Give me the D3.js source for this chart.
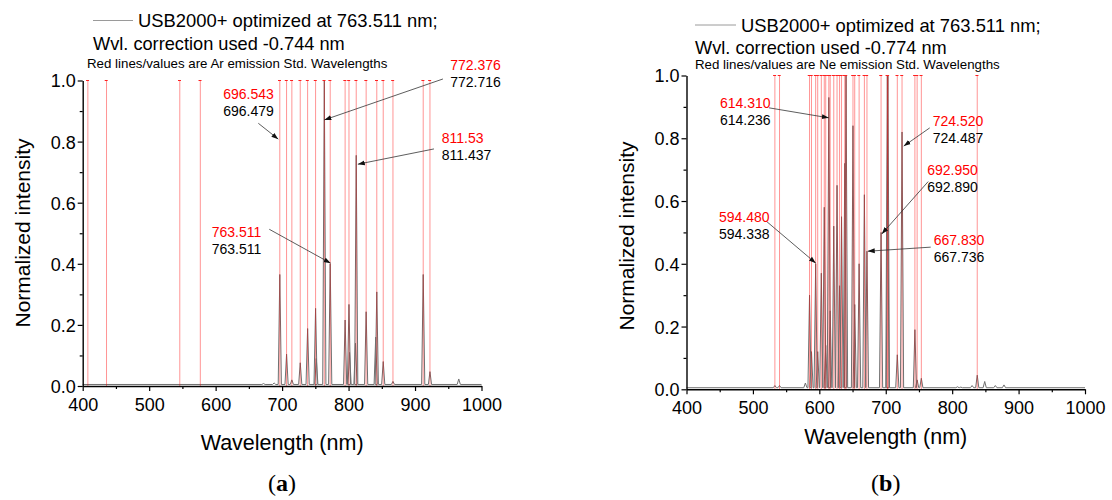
<!DOCTYPE html>
<html>
<head>
<meta charset="utf-8">
<script src="https://cdn.jsdelivr.net/npm/d3@7"></script>
<style>
  body { margin: 0; background: #fff; }
  svg { display: block; }
  text { font-family: "Liberation Sans", Arial, sans-serif; fill: #000; }
</style>
</head>
<body>
<svg id="chart" width="1112" height="500"></svg>
<script>
// ---------- shared axis ticks ----------
const xTickValues = [400, 500, 600, 700, 800, 900, 1000];
const xMinorValues = [450, 550, 650, 750, 850, 950];
const yTickValues = [0, 0.2, 0.4, 0.6, 0.8, 1.0];
const yMinorValues = [0.1, 0.3, 0.5, 0.7, 0.9];

// ---------- (a) argon lamp ----------
const arStdLines = [407.783, 435.833, 546.074, 576.960,
  696.543, 706.722, 714.704, 727.294, 738.398, 750.387, 763.511, 772.376,
  794.818, 800.616, 811.531, 826.452, 842.465, 852.144, 866.794, 912.297, 922.450];
const arPeakWl  = [672, 688, 696.543, 706.722, 714.704, 727.294, 738.398, 750.387, 751.465,
  763.511, 772.376, 794.818, 800.616, 801.479, 810.369, 811.531, 826.452, 840.821,
  842.465, 852.144, 866.794, 912.297, 922.450, 965.8];
const arPeakInt = [0.008, 0.010, 0.365, 0.104, 0.020, 0.076, 0.188, 0.254, 0.090,
  1.000, 0.400, 0.216, 0.267, 0.110, 0.140, 0.755, 0.243, 0.160,
  0.308, 0.080, 0.015, 0.365, 0.047, 0.023];
const arBaseline = 0.005;
const arLegendText = ["USB2000+ optimized at 763.511 nm;", "Wvl. correction used -0.744 nm",
  "Red lines/values are Ar emission Std. Wavelengths"];
const arStdLabels  = ["772.376", "811.53", "696.543", "763.511"];
const arMeasLabels = ["772.716", "811.437", "696.479", "763.511"];

// ---------- (b) neon lamp ----------
const neStdLines = [533.078, 540.056, 585.249, 588.190, 594.483, 597.553, 603.000, 607.434,
  609.616, 614.306, 616.359, 621.728, 626.650, 630.479, 633.443, 638.299, 640.225,
  650.653, 653.288, 659.895, 667.828, 671.704, 692.947, 702.405, 703.241, 717.394,
  724.517, 743.890, 747.244, 753.577, 837.761];
const nePeakWl  = [533.078, 540.056, 579, 585.249, 588.190, 594.483, 597.553, 603.000,
  607.434, 609.616, 614.306, 616.359, 621.728, 626.650, 630.479, 633.443, 638.299,
  640.225, 650.653, 653.288, 659.895, 667.828, 671.704, 692.947, 702.405, 703.241,
  717.394, 724.517, 743.890, 747.244, 753.577, 808, 813, 830, 837.761, 849, 865, 878];
const nePeakInt = [0.012, 0.012, 0.020, 0.300, 0.120, 0.400, 0.120, 0.370,
  0.580, 0.140, 0.930, 0.250, 0.520, 0.650, 0.330, 0.550, 0.720,
  1.000, 0.840, 0.270, 0.400, 0.620, 0.440, 0.500, 1.000, 1.000,
  0.110, 0.820, 0.190, 0.030, 0.035, 0.008, 0.007, 0.012, 0.045, 0.025, 0.012, 0.014];
const neBaseline = 0.005;
const neLegendText = ["USB2000+ optimized at 763.511 nm;", "Wvl. correction used -0.774 nm",
  "Red lines/values are Ne emission Std. Wavelengths"];
const neStdLabels  = ["614.310", "594.480", "724.520", "692.950", "667.830"];
const neMeasLabels = ["614.236", "594.338", "724.487", "692.890", "667.736"];

// ---------- layout ----------
const svg = d3.select("#chart");
const defs = svg.append("defs");
defs.append("marker")
  .attr("id", "arrowhead").attr("viewBox", "0 0 10 10")
  .attr("refX", 10).attr("refY", 5)
  .attr("markerWidth", 7).attr("markerHeight", 7)
  .attr("markerUnits", "userSpaceOnUse")
  .attr("orient", "auto")
  .append("path").attr("d", "M0,1.5 L10,5 L0,8.5 Z").attr("fill", "#111");

const panels = [
  {
    left: 82.7, right: 481.5, top: 80.5, bottom: 386,
    stdLines: arStdLines, peakWl: arPeakWl, peakInt: arPeakInt, baseline: arBaseline,
    legend: arLegendText, stdLabels: arStdLabels, measLabels: arMeasLabels,
    legendLine: [93, 133, 20.5], legendTextX: 138, legendBase: [27, 49.5, 68], noteX: 87,
    yTitle: [22, 233], xTitleY: 450, tag: "a", tagY: 491,
    // label anchor (wl, intensity), arrow start, arrow tip — all in data coordinates
    notes: [
      { at: [952.9, 1.051], from: [942, 1.005], to: [763.5, 0.871] },
      { at: [940.1, 0.812], from: [928.5, 0.776], to: [813.9, 0.726] },
      { at: [611.5, 0.955], from: [664.2, 0.860], to: [694.3, 0.808] },
      { at: [594.1, 0.503], from: [680.7, 0.513], to: [773.1, 0.402] }
    ]
  },
  {
    left: 686.5, right: 1085, top: 75.5, bottom: 389.3,
    stdLines: neStdLines, peakWl: nePeakWl, peakInt: nePeakInt, baseline: neBaseline,
    legend: neLegendText, stdLabels: neStdLabels, measLabels: neMeasLabels,
    legendLine: [695, 736, 25], legendTextX: 741, legendBase: [31.5, 53.5, 68.5], noteX: 695,
    yTitle: [626, 236], xTitleY: 444, tag: "b", tagY: 491,
    notes: [
      { at: [450.4, 0.912], from: [524.1, 0.897], to: [614.3, 0.865] },
      { at: [448.9, 0.550], from: [521.1, 0.534], to: [594.7, 0.402] },
      { at: [770.7, 0.855], from: [766.2, 0.833], to: [727.1, 0.775] },
      { at: [762.4, 0.698], from: [763.9, 0.662], to: [694.0, 0.495] },
      { at: [772.2, 0.476], from: [767.7, 0.453], to: [672.9, 0.440] }
    ]
  }
];

panels.forEach(drawPanel);

function drawPanel(p) {
  const x = d3.scaleLinear().domain([400, 1000]).range([p.left, p.right]);
  const y = d3.scaleLinear().domain([0, 1]).range([p.bottom, p.top]);
  const g = svg.append("g");

  // spectrum: baseline with a narrow spike per emission peak
  const halfWidth = 2.4;
  const order = d3.range(p.peakWl.length).sort((a, b) => p.peakWl[a] - p.peakWl[b]);
  const pts = [[400, p.baseline]];
  order.forEach(i => {
    const c = p.peakWl[i], h = p.peakInt[i];
    pts.push([c - halfWidth, p.baseline], [c, h], [c + halfWidth, p.baseline]);
  });
  pts.push([1000, p.baseline]);
  const line = d3.line().x(d => x(d[0])).y(d => y(d[1]));
  g.append("path").attr("d", line(pts))
    .attr("fill", "none").attr("stroke", "#707070").attr("stroke-width", 1)
    .attr("stroke-linejoin", "miter");

  // standard emission wavelengths
  const std = g.append("g");
  std.selectAll("line.std").data(p.stdLines).join("line")
    .attr("class", "std")
    .attr("x1", d => x(d)).attr("x2", d => x(d))
    .attr("y1", y(0)).attr("y2", y(1))
    .attr("stroke", "#ff0000").attr("stroke-opacity", 0.42).attr("stroke-width", 1);
  std.selectAll("line.cap").data(p.stdLines).join("line")
    .attr("class", "cap")
    .attr("x1", d => x(d) - 1.8).attr("x2", d => x(d) + 1.2)
    .attr("y1", y(1)).attr("y2", y(1))
    .attr("stroke", "#ff2020").attr("stroke-width", 1);

  // axes
  const xAxis = g.append("g").attr("transform", `translate(0,${p.bottom})`)
    .call(d3.axisBottom(x).tickValues(xTickValues).tickSize(5).tickSizeOuter(0)
      .tickPadding(7).tickFormat(d3.format("d")));
  g.append("g").attr("transform", `translate(0,${p.bottom})`)
    .call(d3.axisBottom(x).tickValues(xMinorValues).tickSize(3).tickFormat(""))
    .call(s => s.select(".domain").remove());
  const yAxis = g.append("g").attr("transform", `translate(${p.left},0)`)
    .call(d3.axisLeft(y).tickValues(yTickValues).tickSize(5).tickSizeOuter(0)
      .tickPadding(2).tickFormat(d3.format(".1f")));
  g.append("g").attr("transform", `translate(${p.left},0)`)
    .call(d3.axisLeft(y).tickValues(yMinorValues).tickSize(3).tickFormat(""))
    .call(s => s.select(".domain").remove());
  g.selectAll(".domain").attr("stroke", "#000").attr("stroke-width", 1.4);
  g.selectAll(".tick line").attr("stroke", "#000").attr("stroke-width", 1.2);
  [xAxis, yAxis].forEach(a => a.selectAll("text")
    .attr("font-family", '"Liberation Sans", Arial, sans-serif')
    .attr("font-size", 18).attr("fill", "#000"));
  yAxis.selectAll("text").attr("dy", "0.36em");

  // axis titles
  g.append("text")
    .attr("transform", `translate(${p.yTitle[0]},${p.yTitle[1]}) rotate(-90)`)
    .attr("text-anchor", "middle").attr("dominant-baseline", "central")
    .attr("font-size", 21).text("Normalized intensity");
  g.append("text")
    .attr("x", (p.left + p.right) / 2).attr("y", p.xTitleY)
    .attr("text-anchor", "middle").attr("font-size", 21.5).text("Wavelength (nm)");

  // legend block
  g.append("line")
    .attr("x1", p.legendLine[0]).attr("x2", p.legendLine[1])
    .attr("y1", p.legendLine[2]).attr("y2", p.legendLine[2])
    .attr("stroke", "#9a9a9a").attr("stroke-width", 1);
  g.append("text").attr("x", p.legendTextX).attr("y", p.legendBase[0])
    .attr("font-size", 18.4).text(p.legend[0]);
  g.append("text").attr("x", p.legendLine[0]).attr("y", p.legendBase[1])
    .attr("font-size", 18.2).text(p.legend[1]);
  g.append("text").attr("x", p.noteX).attr("y", p.legendBase[2])
    .attr("font-size", 13.3).text(p.legend[2]);

  // annotated lines: standard (red) over measured (black) wavelength
  p.notes.forEach((n, i) => {
    g.append("line")
      .attr("x1", x(n.from[0])).attr("y1", y(n.from[1]))
      .attr("x2", x(n.to[0])).attr("y2", y(n.to[1]))
      .attr("stroke", "#333").attr("stroke-width", 0.8)
      .attr("marker-end", "url(#arrowhead)");
    g.append("text").attr("x", x(n.at[0])).attr("y", y(n.at[1]))
      .attr("dominant-baseline", "central").attr("font-size", 14)
      .style("fill", "#ff0000").text(p.stdLabels[i]);
    g.append("text").attr("x", x(n.at[0])).attr("y", y(n.at[1]) + 17)
      .attr("dominant-baseline", "central").attr("font-size", 14)
      .text(p.measLabels[i]);
  });

  // panel tag
  const tag = g.append("text").attr("x", (p.left + p.right) / 2).attr("y", p.tagY)
    .attr("text-anchor", "middle")
    .style("font-family", '"Liberation Serif", "Times New Roman", serif')
    .attr("font-size", 24);
  tag.append("tspan").text("(");
  tag.append("tspan").attr("font-weight", "bold").text(p.tag);
  tag.append("tspan").text(")");
}
</script>
</body>
</html>
